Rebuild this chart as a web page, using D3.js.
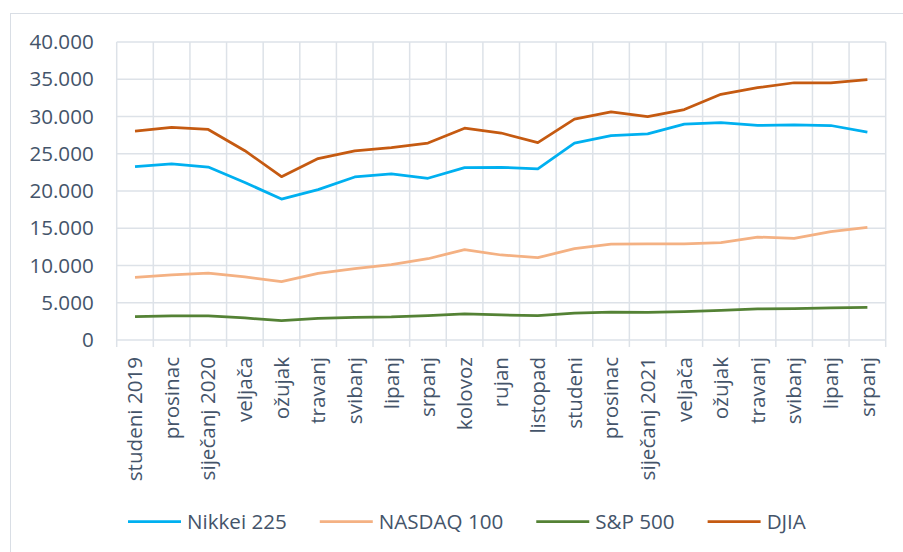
<!DOCTYPE html>
<html>
<head>
<meta charset="utf-8">
<script src="https://cdn.jsdelivr.net/npm/d3@7"></script>
<style>
  body { margin: 0; background: #fff; }
  text { font-family: "Open Sans", sans-serif; fill: #44546a; }
</style>
</head>
<body>
<svg id="line-chart" width="903" height="552"></svg>
<script>
// data
var months = ['studeni 2019', 'prosinac', 'siječanj 2020', 'veljača', 'ožujak', 'travanj',
  'svibanj', 'lipanj', 'srpanj', 'kolovoz', 'rujan', 'listopad', 'studeni', 'prosinac',
  'siječanj 2021', 'veljača', 'ožujak', 'travanj', 'svibanj', 'lipanj', 'srpanj'];

var nikkei = [23260, 23650, 23210, 21140, 18920, 20190, 21880, 22290, 21710, 23140, 23180,
  22980, 26430, 27440, 27660, 28970, 29180, 28810, 28860, 28790, 27910];
var nasdaq = [8410, 8730, 8990, 8460, 7830, 8950, 9570, 10110, 10910, 12120, 11410,
  11050, 12260, 12880, 12900, 12890, 13060, 13820, 13640, 14540, 15120];
var sp500 = [3141, 3231, 3226, 2954, 2585, 2912, 3044, 3100, 3271, 3500, 3363,
  3270, 3622, 3756, 3714, 3811, 3973, 4181, 4204, 4298, 4395];
var djia = [28050, 28540, 28260, 25410, 21920, 24350, 25380, 25810, 26430, 28430, 27780,
  26500, 29640, 30610, 29980, 30930, 32980, 33870, 34530, 34500, 34940];

var seriesNames = ['Nikkei 225', 'NASDAQ 100', 'S&P 500', 'DJIA'];
var seriesColors = ['#00b0f0', '#f4b183', '#548235', '#c55a11'];
var yTicks = [0, 5000, 10000, 15000, 20000, 25000, 30000, 35000, 40000];

var series = [nikkei, nasdaq, sp500, djia].map(function(values, i){
  return { name: seriesNames[i], color: seriesColors[i], values: values };
});

// layout
var margin = { top: 42, left: 116.7, right: 17.3, bottom: 212 };
var chart = d3.select('#line-chart');
var width = chart.attr('width') - margin.left - margin.right;
var height = chart.attr('height') - margin.top - margin.bottom;
var fontSize = '20.6px';

var hr = d3.formatLocale({ decimal: ',', thousands: '.', grouping: [3], currency: ['', ''] });
var fmt = hr.format(',');

// chart frame (cut by the picture edge)
chart.append('rect')
  .attr('x', 10.5).attr('y', 13.5)
  .attr('width', 1000).attr('height', 1000)
  .attr('fill', 'none')
  .attr('stroke', '#d9dee5')
  .attr('stroke-width', 1);

var g = chart.append('g')
  .attr('transform', 'translate(' + margin.left + ',' + margin.top + ')');

// scales
var xScale = d3.scaleBand()
  .domain(d3.range(months.length))
  .range([0, width]);

var yScale = d3.scaleLinear()
  .domain([0, 40000])
  .range([height, 0]);

// horizontal grid
g.append('g')
  .selectAll('line')
  .data(yTicks)
  .enter()
  .append('line')
  .attr('x1', 0).attr('x2', width)
  .attr('y1', function(d){ return yScale(d); })
  .attr('y2', function(d){ return yScale(d); })
  .attr('stroke', '#dde2e8')
  .attr('stroke-width', 1.5);

// vertical grid at category edges, reaching a bit below the axis
g.append('g')
  .selectAll('line')
  .data(d3.range(months.length + 1))
  .enter()
  .append('line')
  .attr('x1', function(d){ return d < months.length ? xScale(d) : width; })
  .attr('x2', function(d){ return d < months.length ? xScale(d) : width; })
  .attr('y1', 0).attr('y2', height + 7)
  .attr('stroke', '#dde2e8')
  .attr('stroke-width', 1.5);

// y axis
var yAxis = d3.axisLeft(yScale).tickValues(yTicks).tickFormat(fmt).tickSize(0).tickPadding(23);
g.append('g')
  .call(yAxis)
  .call(function(s){ s.select('.domain').remove(); })
  .selectAll('text')
  .style('font-size', fontSize)
  .attr('fill', '#44546a')
  .style('font-family', '"Open Sans", sans-serif');

// x axis, labels rotated
var xAxis = d3.axisBottom(xScale).tickFormat(function(i){ return months[i]; }).tickSize(0);
g.append('g')
  .attr('transform', 'translate(0,' + height + ')')
  .call(xAxis)
  .call(function(s){ s.select('.domain').remove(); })
  .selectAll('text')
  .style('font-size', fontSize)
  .style('font-family', '"Open Sans", sans-serif')
  .attr('fill', '#44546a')
  .attr('text-anchor', 'end')
  .attr('dy', '0.35em')
  .attr('transform', 'translate(0,17) rotate(-90)')
  .attr('x', 0).attr('y', 0);

// lines
var line = d3.line()
  .x(function(d, i){ return xScale(i) + xScale.bandwidth() / 2; })
  .y(function(d){ return yScale(d); });

g.append('g')
  .selectAll('path')
  .data(series)
  .enter()
  .append('path')
  .attr('d', function(d){ return line(d.values); })
  .attr('fill', 'none')
  .attr('stroke', function(d){ return d.color; })
  .attr('stroke-width', 2.75)
  .attr('stroke-linejoin', 'round');

// legend
var legend = chart.append('g').attr('transform', 'translate(128,521.5)');
var lx = 0;
series.forEach(function(s){
  var item = legend.append('g').attr('transform', 'translate(' + lx + ',0)');
  item.append('line')
    .attr('x1', 0).attr('x2', 53)
    .attr('stroke', s.color)
    .attr('stroke-width', 2.75);
  var t = item.append('text')
    .attr('x', 59).attr('y', 7)
    .style('font-size', fontSize)
    .text(s.name);
  lx += 59 + t.node().getComputedTextLength() + 33;
});
</script>
</body>
</html>
